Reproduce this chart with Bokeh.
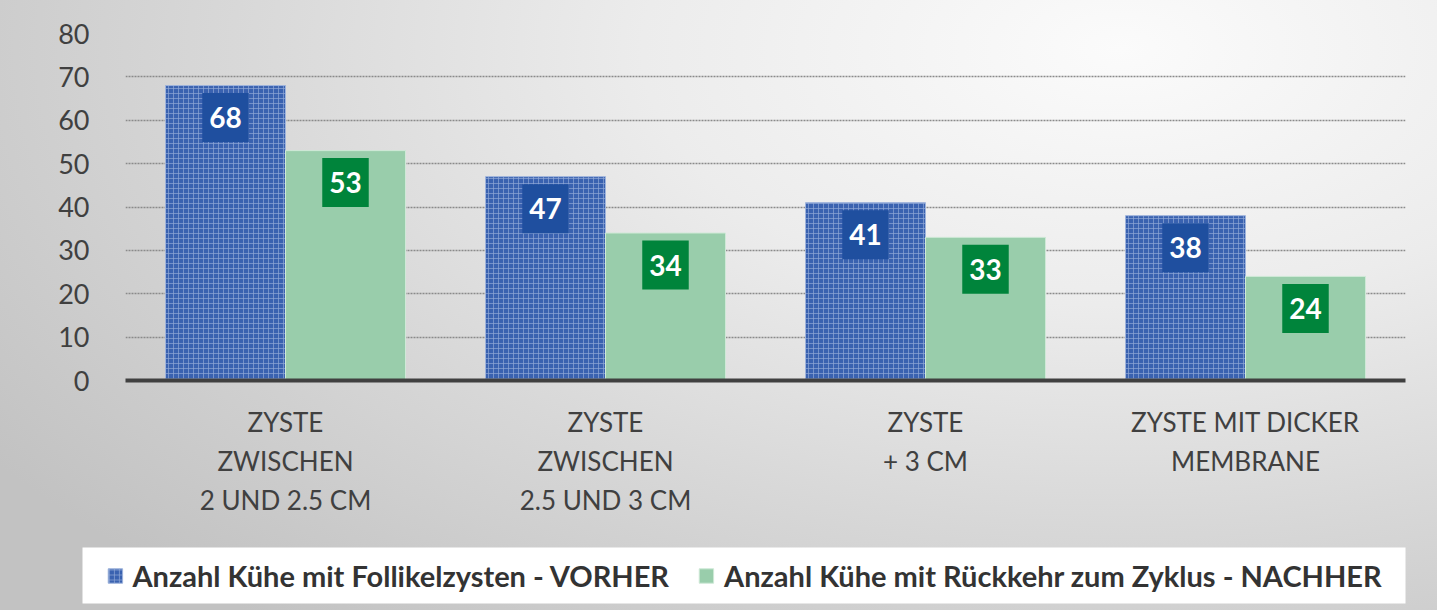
from bokeh.plotting import figure
from bokeh.layouts import column, row
from bokeh.models import ColumnDataSource, FactorRange, Legend, LegendItem, FixedTicker
from bokeh.transform import dodge
from bokeh.core.properties import value
from bokeh.embed import file_html
from bokeh.resources import INLINE

categories = ["ZYSTE\nZWISCHEN\n2 UND 2.5 CM", "ZYSTE\nZWISCHEN\n2.5 UND 3 CM", "ZYSTE\n+ 3 CM", "ZYSTE MIT DICKER\nMEMBRANE"]
vorher = [68, 47, 41, 38]
nachher = [53, 34, 33, 24]
series_names = ["Anzahl Kühe mit Follikelzysten - VORHER", "Anzahl Kühe mit Rückkehr zum Zyklus - NACHHER"]
y_ticks = [0, 10, 20, 30, 40, 50, 60, 70, 80]

src = ColumnDataSource(dict(cat=categories, vorher=vorher, nachher=nachher,
                            vlab=[str(v) for v in vorher], nlab=[str(v) for v in nachher]))

BLUE = dict(fill_color="#3a62b0", line_color="#9fb4dc", line_width=1,
            hatch_pattern="+", hatch_color="#8ea6d6", hatch_scale=5, hatch_weight=1, hatch_alpha=0.7)
GREEN = dict(fill_color="#99cdab", line_color="#cfe9d7", line_width=1)

p = figure(x_range=FactorRange(factors=categories, range_padding=0), y_range=(0, 80),
           width=1437, height=547,
           output_backend="svg", toolbar_location=None,
           min_border_left=125, min_border_right=32, min_border_top=33, min_border_bottom=167)
p.x_range.range_padding = 0
p.border_fill_color = None
p.background_fill_color = None
p.outline_line_color = None

bw = 0.375
p.vbar(x=dodge("cat", -bw / 2, range=p.x_range), top="vorher", width=bw, source=src, **BLUE)
p.vbar(x=dodge("cat", bw / 2, range=p.x_range), top="nachher", width=bw, source=src, **GREEN)

box_pad = dict(left=7, right=7, top=14, bottom=14)
p.text(x=dodge("cat", -bw / 2, range=p.x_range), y="vorher", text="vlab", source=src,
       y_offset=32, text_align="center", text_baseline="middle",
       text_font=value("Lato"), text_font_style="bold", text_font_size="28px", text_color="white",
       background_fill_color="#1f4f9f", padding=box_pad)
p.text(x=dodge("cat", bw / 2, range=p.x_range), y="nachher", text="nlab", source=src,
       y_offset=32, text_align="center", text_baseline="middle",
       text_font=value("Lato"), text_font_style="bold", text_font_size="28px", text_color="white",
       background_fill_color="#00843b", padding=box_pad)

# axes
p.yaxis.ticker = FixedTicker(ticks=y_ticks)
p.yaxis.axis_line_color = None
p.yaxis.major_tick_line_color = None
p.yaxis.minor_tick_line_color = None
p.yaxis.major_label_text_font = "Lato"
p.yaxis.major_label_text_font_size = "27px"
p.yaxis.major_label_text_color = "#404040"
p.yaxis.major_label_standoff = 30

p.xaxis.axis_line_color = "#404040"
p.xaxis.axis_line_width = 4
p.xaxis.major_tick_line_color = None
p.xaxis.minor_tick_line_color = None
p.xaxis.major_label_text_font = "Lato"
p.xaxis.major_label_text_font_size = "26px"
p.xaxis.major_label_text_color = "#404040"
p.xaxis.major_label_text_line_height = 1.23
p.xaxis.major_label_standoff = 19
p.xaxis.major_label_orientation = "horizontal"

p.xgrid.grid_line_color = None
p.ygrid.grid_line_color = "#8a8a8a"
p.ygrid.grid_line_dash = "2 1"
p.ygrid.grid_line_width = 1.5

# legend strip (white box) below the chart
p2 = figure(width=1437, height=63, x_range=(0, 1), y_range=(0, 1),
            output_backend="svg", toolbar_location=None,
            x_axis_location=None, y_axis_location=None,
            min_border_left=82, min_border_right=32, min_border_top=0, min_border_bottom=7)
p2.border_fill_color = None
p2.background_fill_color = "white"
p2.outline_line_color = None
p2.grid.visible = False
key_src = ColumnDataSource(dict(x=list(range(len(vorher))), vorher=vorher, nachher=nachher))
d1 = p2.vbar(x="x", top="vorher", width=0.1, source=key_src, visible=False, **BLUE)
d2 = p2.vbar(x="x", top="nachher", width=0.1, source=key_src, visible=False, **GREEN)

legend = Legend(items=[LegendItem(label=series_names[0], renderers=[d1]),
                       LegendItem(label=series_names[1], renderers=[d2])],
                orientation="horizontal", location="center", click_policy="none",
                label_text_font="Lato", label_text_font_style="bold", label_text_font_size="29px",
                label_text_color="#333333", background_fill_alpha=0,
                border_line_color=None, glyph_width=18, glyph_height=18, spacing=28,
                padding=2, margin=0, label_standoff=9)
p2.add_layout(legend, "center")

layout = column(p, row(p2), spacing=0,
                styles={"background": "radial-gradient(ellipse 95% 120% at 78% 8%, #fbfbfb 0%, #ececec 35%, #d8d8d8 65%, #c2c2c2 100%)"})

open("out.html", "w").write(file_html(layout, INLINE))
